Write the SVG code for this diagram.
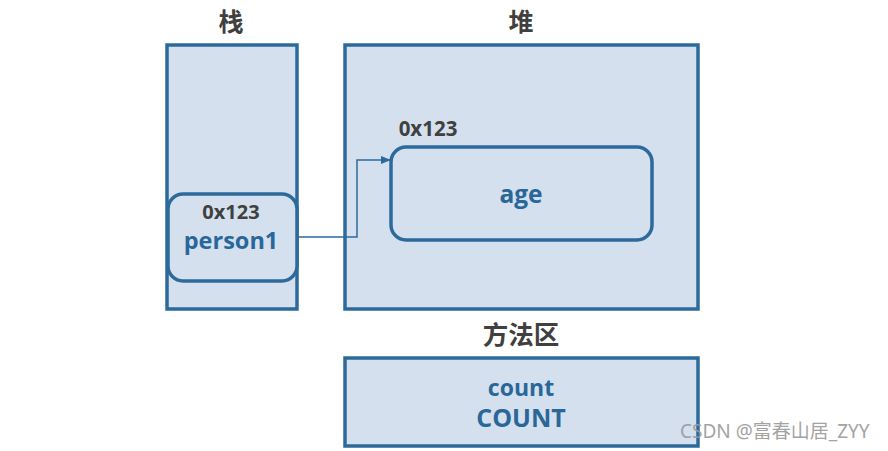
<svg xmlns="http://www.w3.org/2000/svg" width="888" height="451" viewBox="0 0 888 451">
<style>
.box{fill:#D5E0EF;stroke:#2C6A9C;stroke-width:3.5}
.t{font-family:"Open Sans","Noto Sans CJK SC",sans-serif;font-weight:bold;text-anchor:middle}
.dk{fill:#404040}
.bl{fill:#2A6799}
</style>
<defs>
<marker id="arr" markerWidth="10" markerHeight="8" refX="9" refY="4" orient="auto" markerUnits="userSpaceOnUse">
<path d="M0,0 L10,4 L0,8 Z" fill="#2C6A9C"/>
</marker>
</defs>
<rect width="888" height="451" fill="#fff"/>
<g id="stack">
<text class="t dk" x="231" y="31" font-size="25">栈</text>
<rect class="box" x="167" y="45" width="130" height="264"/>
</g>
<g id="heap">
<text class="t dk" x="521" y="31" font-size="25">堆</text>
<rect class="box" x="345" y="45" width="353" height="264"/>
</g>
<g id="person1">
<rect class="box" x="168" y="194" width="129" height="87" rx="15"/>
<text class="t dk" x="231" y="219" font-size="20">0x123</text>
<text class="t bl" x="231" y="249" font-size="23.5">person1</text>
</g>
<g id="object">
<text class="t dk" x="428" y="136" font-size="20.5">0x123</text>
<rect class="box" x="391" y="147" width="261" height="93" rx="15"/>
<text class="t bl" x="521" y="203" font-size="24.5">age</text>
</g>
<g id="method">
<text class="t dk" x="521" y="344" font-size="25.5">方法区</text>
<rect class="box" x="345" y="358" width="353" height="88"/>
<text class="t bl" x="521" y="396" font-size="23">count</text>
<text class="t bl" x="521" y="427" font-size="25">COUNT</text>
</g>
<g id="connectors">
<polyline points="297,237 357,237 357,160 390,160" fill="none" stroke="#2C6A9C" stroke-width="1.5" marker-end="url(#arr)"/>
</g>
<text x="680" y="438" font-family="'Noto Sans','Noto Sans CJK SC',sans-serif" font-size="19" fill="#9a9a9a" opacity="0.9">CSDN @富春山居_ZYY</text>
</svg>
